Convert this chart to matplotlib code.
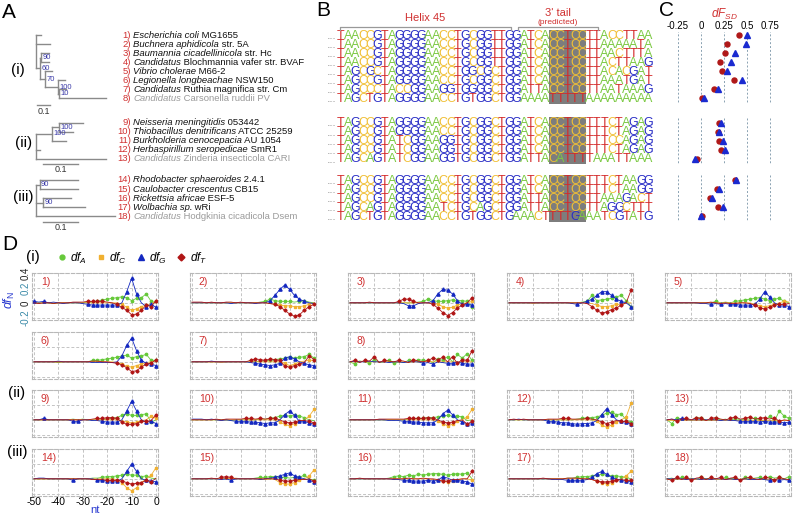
import matplotlib
matplotlib.use("Agg")
import matplotlib.pyplot as plt
from matplotlib.lines import Line2D
from matplotlib.patches import Rectangle
import numpy as np

plt.rcParams['font.family'] = ['Liberation Sans', 'DejaVu Sans']
plt.rcParams['mathtext.fontset'] = 'custom'
plt.rcParams['mathtext.it'] = 'Liberation Sans:italic'
plt.rcParams['mathtext.rm'] = 'Liberation Sans'

W, H = 794, 515

# ---------------- data ----------------
species_italic = ["Escherichia coli", "Buchnera aphidicola", "Baumannia cicadellinicola",
                  "Candidatus", "Vibrio cholerae", "Legionella longbeachae", "Candidatus",
                  "Candidatus", "Neisseria meningitidis", "Thiobacillus denitrificans",
                  "Burkholderia cenocepacia", "Herbaspirillum seropedicae", "Candidatus",
                  "Rhodobacter sphaeroides", "Caulobacter crescentus", "Rickettsia africae",
                  "Wolbachia sp.", "Candidatus"]
species_rest = [" MG1655", " str. 5A", " str. Hc", " Blochmannia vafer str. BVAF", " M66-2",
                " NSW150", " Ruthia magnifica str. Cm", " Carsonella ruddii PV", " 053442",
                " ATCC 25259", " AU 1054", " SmR1", " Zinderia insecticola CARI", " 2.4.1",
                " CB15", " ESF-5", " wRi", " Hodgkinia cicadicola Dsem"]
gray_species = [8, 13, 18]
group_sizes = [8, 5, 5]

# trees: child = (leaf, branch length) or (children, branch length, support)
tree_i = [(1, .04), (2, .11),
          ([([(3, .06), (4, .06)], .01, '90'),
            ([(5, .05), ([(6, .05), ([(7, .05), (8, .36)], .01, '10')], .10, '100')], .04, '70')],
           .03, '60')]
tree_ii = [([([(9, .07), (10, .04)], .02, '100'), (11, .04)], .045, '100'), (12, .01), (13, .2)]
tree_iii = [([(14, .11), (15, .11)], .01, '90'), ([(16, .08), (17, .12)], .02, '90'), (18, .225)]

seqs = [
    "TAACCGTAGGGGAACCTGCGGTTGGATCACCTCCTTACCTTAA",
    "TAACCGTAGGGGAACCTGCGGTTGGATCACCTCCTTAAAAATA",
    "TAACCGTAGGGGAACCTGCGGTTGGATCACCTCCTTAACTTTA",
    "TAACCGTAGGGGAACCTGCGGTTGGATCACCTCCTTACTTAAG",
    "TAGCGCTAGGGGAACCTGGCGCTGGATCACCTCCTTACACGAT",
    "TAGCCGTAGGGGAACCTGCGGCTGGATCACCTCCTTAAATGAT",
    "TAGCCCTACCGGAAGGTGGGGCTGGATTACCTCCTTAATAAAG",
    "TAGCTGTAGGGGAACCTGTGGCTGGAAAATTTTTAAAAAAAAA",
    "TAGCCGTAGGGGAACCTGCGGCTGGATCACCTCCTTTCTAGAG",
    "TAGCCGTAGGGGAACCTGCGGCTGGATCACCTCCTTTCTAGAG",
    "TAGCCGTATCGGAAGGTGCGGCTGGATCACCTCCTTTCCAGAG",
    "TAGCCGTATCGGAAGGTGCGGCTGGATCACCTCCTTTCTAGAG",
    "TAGCAGTATCGGAAGGTGCGGCTGGATTACATTTTAAATTAAA",
    "TAGCCGTAGGGGAACCTGCGGCTGGATCACCTCCTTTCTAAGG",
    "TAGCCGTAGGGGAACCTGCGGCTGGATCACCTCCTTTCTAAGG",
    "TAGCCGTAGGGGAACCTGCGGCTGGATTACCTCCTTAAAGACT",
    "TAGCAGTAGGGGAATCTGCAGCTGGATTACCTCCTTAGGCTTT",
    "TAGCTGTAGGGGAACCTGTGGCTGAAACTTTTGAAATCGTATG",
]
box_start, box_len = 29, 5
helix_cols = (0, 23.8)
tail_cols = (24.3, 35.6)

dF_red = [0.41, 0.28, 0.26, 0.21, 0.23, 0.36, 0.14, 0.01,
          0.20, 0.18, 0.20, 0.22, -0.04,
          0.37, 0.17, 0.10, 0.19, 0.01]
dF_blue = [0.50, 0.49, 0.37, 0.33, 0.28, 0.45, 0.18, 0.03,
           0.22, 0.20, 0.24, 0.26, -0.06,
           0.38, 0.20, 0.12, 0.24, 0.00]
c_ticks = [-0.25, 0, 0.25, 0.5, 0.75]
c_ticklabels = ["-0.25", "0", "0.25", "0.5", "0.75"]

nt = np.arange(-50, 1, 2)
dfA = [
    [0,0,0,0,-0.01,0,0,0,0,0,0,0.01,0.01,0.02,0.04,0.05,0.06,0.07,0.08,0.07,0.03,0.06,0.07,0.12,0.02,0.0],
    [0,0,0,0,0,0,0,0,0,0,0,0,0,0,0.01,0.02,0.05,0.03,0.02,0.02,0.02,0.01,0.02,0.03,0.01,0.0],
    [0,0,0,0,0,0,0,0,0,0,0,0,0,0,0.01,0.02,0.05,0.03,0.02,0.02,0.03,0.04,0.03,0.03,0.02,-0.05],
    [0,0,0,0,0,0,0,0,0,0,0,0,0,0,0,0.01,0.02,0.1,0.03,0.04,0.05,0.06,0.08,0.1,0.03,-0.05],
    [0,0,0,0,0,0,0,0,0,0,0.02,0.0,0.01,0,0.02,0.03,0.04,0.05,0.06,0.07,0.05,0.03,0.05,0.06,0.02,0],
    [0,0,0,0,0,-0.01,0,0,0,0,0,0,0.02,0.02,0.03,0.04,0.05,0.06,0.08,0.09,0.05,0.07,0.08,0.1,0.02,0.02],
    [0,0,0,0,0,0,0,0,0,0,0,0,0,0,0.01,0.01,0.02,0.03,0.04,0.05,0.06,0.05,0.06,0.07,0.1,0.05],
    [0,-0.03,0.01,0,-0.02,0.03,-0.01,0,0.02,-0.02,0,-0.01,0.02,0.0,0.03,0.02,0.01,-0.01,0.04,0.02,0.07,0.0,0.1,0.05,0.11,0.02],
    [0,0,0,0,0,0,0,0,0.01,0,0.01,0,0,0,0,0.01,0.02,0.03,0.06,0.08,0.06,0.06,0.07,0.08,-0.03,0.0],
    [0,0,0,0,0,0,0,0,-0.01,0,0,0,0,0,0.01,0.01,0.02,0.03,0.05,0.06,0.05,0.06,0.05,0.03,0.0,-0.01],
    [0,0,0,0,0,0,0,0,0,0,0,0,0.01,0.01,0.02,0.02,0.03,0.03,0.04,0.05,0.06,0.05,0.05,0.04,-0.01,0],
    [0,0,0,0,0,0,0,0,0,0,0,0,0,0,0.01,0.02,0.03,0.03,0.04,0.06,0.09,0.1,0.07,0.08,0.0,-0.03],
    [0,-0.05,0.03,0,0.01,-0.01,0.03,0.02,0.0,-0.01,0.02,0,0.01,-0.01,0.02,0.0,0.01,0.01,0.02,0,-0.02,0.05,-0.02,0.12,0.05,0.02],
    [0,0,0,0,0,0,0,0,0,0,0,0,0.01,0.01,0.02,0.03,0.03,0.04,0.05,0.06,0.05,0.05,0.03,0.04,0.01,0.0],
    [0,0,0,0,0,0,0,0,0,0,0,0,0,0.01,0.02,0.02,0.03,0.03,0.02,0.02,0.01,0.02,0.02,0.05,0.0,-0.02],
    [0,0,0,0,0,0,0,0,0.01,0.03,0.04,0.03,0.05,0.04,0.06,0.05,0.06,0.07,0.07,0.06,0.05,0.06,0.07,0.06,0.08,0.0],
    [0,0,0,0,0,0,0,0,0,0,0,0,0.01,0.01,0.02,0.03,0.03,0.04,0.05,0.06,0.05,0.04,0.04,0.03,0.02,0.0],
    [0,0.01,-0.01,0.02,0,0.01,-0.01,0.02,0,0.01,0,-0.01,0.02,0,0.01,-0.01,0.02,0,0.01,0.02,0,0.03,0.01,0.02,0,0.03],
]
dfC = [
    [0,0,0,0,0,0,0,0,0,0,0,0,0,0,0,0,0,0,-0.02,-0.06,-0.1,-0.08,-0.05,-0.03,-0.01,0.02],
    [0,0,0,0,0,0,0,0,0,0,0,0,0,0,0,0,-0.01,-0.02,-0.03,-0.04,-0.04,-0.05,-0.05,-0.04,-0.02,0],
    [0,0,0,0,0,0,0,0,0,0,0,0,0,0,0,0,0,0,-0.02,-0.05,-0.07,-0.06,-0.03,-0.01,0,0.02],
    [0,0,0,0,0,-0.01,0,0,0,0,0,0,0,0,0,0,0,-0.01,-0.03,-0.05,-0.05,-0.04,-0.02,-0.02,0,0],
    [0,0,0,0,0,0,0,0,0,0,0,0,0,0,0,0,0,0,-0.02,-0.04,-0.05,-0.04,-0.02,0,0.02,0.01],
    [0,0,0,0,0,0,0,0,0,0,0,0,0,0,0,0,0,-0.01,-0.03,-0.06,-0.07,-0.05,-0.03,-0.01,0,0.01],
    [0,0,0,0,0,0,-0.01,0,0,0,0,0,0,0,0,0,0,0,0,-0.02,-0.05,-0.03,0,0.01,0.02,0.02],
    [0,0,0.01,0,0,0,0,0,0,0,0,0,-0.01,0,0,0,0.01,0,0,0,0,0,0,0,0,0],
    [0,0,0,0,0,0,0,0,0,0,0,0,0,0,0,0,0,0,-0.01,-0.03,-0.04,-0.03,-0.01,0,0.05,0.02],
    [0,0,0,0,0,0,-0.01,0,0,0,0,0,0,0,0,0,0,0,-0.03,-0.06,-0.08,-0.05,-0.02,0,0.05,0.14],
    [0,0,0,0,0,0,0,0,0,0,0,0,0,0,0,0,0,0,-0.02,-0.05,-0.08,-0.06,-0.02,0,0.04,0.14],
    [0,0,0,0,0,0,0,0,0,0,0,0,0,0,0,0,0,0,-0.02,-0.07,-0.1,-0.07,-0.03,0,0.04,0.22],
    [0,0,0,0,0,0,0,0,0,0,0,0,0,0,0,0,0,0,0,0,0,0,0,0,0,0],
    [0,0,0,0,0,0,0,0,0,0,0,0,0,0,0,0,0,-0.01,-0.05,-0.12,-0.16,-0.12,-0.05,0,0.05,0.15],
    [0,0,0,0,0,0,0,0.01,0,0.01,0,0,0,0,0,-0.01,0,-0.01,-0.05,-0.07,-0.07,-0.05,-0.02,0,0.04,0.12],
    [0,0,0,0,0,0,0,0,0,0,0,0,0,0,0,0,0,-0.01,-0.02,-0.03,-0.04,-0.03,-0.01,0,0,-0.02],
    [0,0,0,0,0,0,0,0,0,0,0,0,0,0,0,0,0,-0.01,-0.03,-0.05,-0.07,-0.05,-0.02,0,0.04,0.1],
    [0,0,0,0,0,0,0,0,0,0,0,0,0,0,0,0,0,0,0,0,0,0,0,0,0,0],
]
dfG = [
    [0.02,0.01,0.02,0,0.01,0,-0.01,0,0,0,-0.01,-0.02,-0.03,-0.03,-0.03,-0.03,-0.03,-0.03,0.0,0.15,0.33,0.12,0.0,-0.05,-0.02,-0.06],
    [0,0,0,0,0,0,0,0,-0.01,0,0,0,0,-0.01,0,0,0.03,0.1,0.18,0.24,0.18,0.1,0.05,0.02,0.0,-0.01],
    [0,0,0,0,0,0,0,0,0,0,0,-0.01,-0.04,-0.04,-0.01,0,0,0.03,0.12,0.18,0.17,0.12,0.03,-0.02,-0.02,-0.03],
    [0,0,0,0,0,0,0,0,0,0,0,0,0,-0.01,-0.02,0,0.02,0.05,0.1,0.15,0.15,0.1,0.05,0.02,0,-0.05],
    [0,0,0,0,0,0,0,-0.01,-0.01,-0.02,-0.01,-0.02,-0.01,-0.02,-0.02,-0.03,-0.03,-0.03,-0.02,0.05,0.15,0.08,0.0,-0.03,-0.03,-0.05],
    [0,0,0,0,0,0.01,0,0,0,0,0,0,-0.01,-0.01,-0.01,-0.01,-0.01,0,0.08,0.22,0.32,0.15,0.02,-0.02,-0.03,-0.05],
    [0,0,0,0,0.01,0,0,0,0,0,0,0,-0.01,-0.02,-0.03,-0.04,-0.05,-0.04,-0.02,0.05,0.07,0.04,0.0,-0.02,-0.04,-0.05],
    [0,0.01,0,0,0.01,0,0,0,-0.01,0,0,-0.01,0,0,0,-0.02,-0.01,-0.03,0,-0.01,-0.02,-0.02,0,-0.02,-0.03,-0.03],
    [0,0,0.02,0,0,0,0,0,-0.02,-0.02,0,0,-0.01,-0.01,-0.02,-0.03,-0.03,-0.03,0.0,0.12,0.25,0.12,0.0,-0.03,-0.02,-0.05],
    [0.01,0.01,0.01,0,0.01,0,-0.01,0,-0.01,-0.02,-0.02,-0.02,-0.03,-0.03,-0.04,-0.05,-0.04,-0.04,0.0,0.07,0.12,0.06,-0.02,-0.02,-0.04,-0.06],
    [0,0,0,0,0,0,0,0,-0.01,-0.01,-0.01,-0.02,-0.02,-0.03,-0.03,-0.04,-0.04,-0.04,0.0,0.08,0.13,0.07,0.0,-0.03,-0.05,-0.04],
    [0,0,0.01,0,0,0,0,0,-0.02,-0.02,-0.03,-0.04,-0.04,-0.05,-0.06,-0.05,-0.05,-0.04,-0.01,0.07,0.15,0.07,0.0,-0.02,-0.03,-0.06],
    [0,0.01,0,0.02,0,0,0,0,0,0,0,-0.01,0,-0.01,-0.01,-0.02,-0.02,-0.02,-0.02,-0.03,-0.02,-0.03,-0.03,-0.03,-0.04,-0.03],
    [0,0.01,0.01,0,0,0,0,0,-0.02,0,0,0,0,-0.02,-0.02,-0.03,-0.03,-0.03,0.0,0.1,0.2,0.1,0.0,-0.02,-0.03,-0.04],
    [0,0,0,0,0,0,-0.01,0,-0.02,0,0,0,0,0,-0.01,0,0.01,0.02,0.04,0.06,0.08,0.04,0.02,0.0,-0.02,-0.04],
    [0,0,0,0,0,0,0,0,0,-0.01,-0.01,-0.02,-0.02,-0.03,-0.03,-0.03,-0.02,-0.03,-0.02,0.03,0.01,-0.02,-0.02,-0.03,-0.04,-0.07],
    [0,0,0,0,0,0,0,0,0,-0.01,-0.01,-0.01,-0.02,-0.02,-0.02,-0.02,-0.01,0.02,0.07,0.1,0.06,0.02,0.0,-0.02,-0.03,-0.04],
    [0,0,0,0,-0.01,0,0,-0.01,0,-0.01,0,0,-0.01,0,-0.01,-0.01,0,-0.01,-0.01,0,-0.01,-0.02,-0.01,-0.02,-0.01,-0.02],
]
dfT = [
    [0,-0.01,0,0,-0.01,0,0,0,0.01,0.01,0.01,0.02,0.02,0.02,0.02,0.01,0,-0.02,-0.06,-0.1,-0.16,-0.15,-0.1,-0.03,-0.05,0.03],
    [0.01,0.01,0.01,0,0.01,0,0,0.01,0.01,0,0.01,0,0,0,0,0,-0.01,-0.02,-0.05,-0.1,-0.15,-0.18,-0.16,-0.1,-0.05,-0.02],
    [0,0,0,0,0.01,0,0,0,0,0,0.02,0.05,0.05,0.02,0,0,0,-0.02,-0.07,-0.13,-0.17,-0.13,-0.07,-0.03,0,0.07],
    [0,0,0,0,0,0,0,0,0,0,0,0,0,0,0,0,-0.01,-0.05,-0.1,-0.14,-0.12,-0.09,-0.07,-0.03,0.0,0.17],
    [0,0,0,0,0,0,0,0,0,0.01,0,-0.01,0,-0.01,-0.01,0,0,-0.01,-0.03,-0.07,-0.08,-0.06,-0.03,-0.02,-0.02,-0.01],
    [0,0,0,0,0,0,0,0,0,0,0,0,0.01,0.01,0,0,-0.01,-0.02,-0.04,-0.08,-0.13,-0.12,-0.07,-0.03,-0.02,0.03],
    [0,0,0,0,0,0,0,0,0,0,0,0,0.02,0.04,0.03,0.02,0.04,0.03,0.02,-0.06,-0.07,-0.05,-0.03,-0.01,0.08,0.03],
    [0,0.02,-0.01,0.02,0.01,0.07,-0.01,0.02,0.01,0.0,0.02,0.01,-0.01,0.03,0.01,0.0,0.02,0.05,0.03,0.06,0.0,0.07,-0.02,0.03,0.02,0.15],
    [0,0,0,0,0,0,0,0,0,0,0,0,0.01,0.02,0.02,0.03,0.03,0.02,-0.03,-0.06,-0.06,-0.05,-0.02,-0.02,-0.01,0.07],
    [0,0,0,0,0,0.01,0,0.01,0.01,0.01,0.01,0.02,0.02,0.01,0.02,0.01,0.02,0.02,0.0,-0.03,-0.04,-0.03,-0.01,-0.01,-0.02,-0.04],
    [0,0,0,0,0,0,0.01,0.01,0.01,0.01,0.01,0.01,0.02,0.02,0.02,0.02,0.03,0.02,0.0,-0.03,-0.04,-0.03,-0.01,0,-0.06,-0.02],
    [0,0.01,0,0.01,0,0,0,0,0.01,0.01,0.01,0.02,0.02,0.01,0.01,0.01,0.02,0.01,0.0,-0.03,-0.05,-0.03,-0.01,-0.02,-0.02,-0.05],
    [0,0.01,-0.02,0.01,0.02,0.0,0.03,0.02,-0.01,0.02,0.03,0.01,0.0,0.02,0.04,0.01,0.02,0.04,0.01,0.02,0.03,0.01,0.03,-0.02,0.0,-0.01],
    [0,0,0,0,0,0,0,0,0,0,0,0,-0.01,-0.01,-0.01,-0.02,-0.02,-0.02,-0.03,-0.05,-0.07,-0.06,-0.05,-0.02,-0.04,0.01],
    [0,0,0,0,0.01,0,0.02,0.03,0.02,0.0,0,0,0,0,0,0,0,0,-0.02,-0.03,-0.03,-0.02,-0.01,-0.01,0.0,-0.03],
    [0,0,0.01,0,0,0,0,0,0,0,0,0,0.01,0,0,0.01,0,0,-0.01,-0.03,-0.03,-0.01,-0.01,0,0.0,0.1],
    [0,0,0,0,0,0,0,0.01,0,0,0,0,0.01,0.01,0.01,0,0,-0.01,-0.03,-0.04,-0.04,-0.03,-0.02,-0.01,-0.02,-0.02],
    [0,-0.02,0.02,-0.01,0.02,-0.02,0.01,0.02,-0.01,0.02,0.0,0.02,-0.01,0.01,0.02,-0.02,0.01,0.02,0.0,-0.01,0.02,0.01,-0.02,0.02,0,-0.01],
]

# ---------------- layout ----------------
group_top = [35, 122.5, 180]
row_gap = 9.05
row_y = []
for g, n in enumerate(group_sizes):
    row_y += [group_top[g] + row_gap * k for k in range(n)]
group_rows = []
i0 = 0
for n in group_sizes:
    group_rows.append((row_y[i0], row_y[i0 + n - 1]))
    i0 += n

base_color = {'T': '#d42a2a', 'A': '#7cc943', 'C': '#f0bf35', 'G': '#2a2ec6'}
colA, colC, colG, colT = '#66c93a', '#f0b030', '#1428c0', '#b01515'
red_txt = '#d03030'
tree_col = '#8a8a8a'
boot_col = '#3a3aa8'

fig = plt.figure(figsize=(W / 100, H / 100), dpi=100)
bg = fig.add_axes([0, 0, 1, 1])
bg.set_xlim(0, W)
bg.set_ylim(H, 0)
bg.axis('off')
renderer = fig.canvas.get_renderer()

# panel letters
for s, x, y in [("A", 9, 13), ("B", 323, 11), ("C", 666, 10), ("D", 10, 244)]:
    bg.text(x, y, s, fontsize=15, ha='center', va='center')

# ---------------- A: trees + species ----------------
def draw_tree(node, x, scale):
    ys = []
    for ch in node:
        if isinstance(ch[0], int):
            y = row_y[ch[0] - 1]
            bg.plot([x, x + ch[1] * scale], [y, y], color=tree_col, lw=1)
        else:
            x1 = x + ch[1] * scale
            y = draw_tree(ch[0], x1, scale)
            bg.plot([x, x1], [y, y], color=tree_col, lw=1)
            bg.text(x1 + 1.5, y, ch[2], fontsize=5.5, color=boot_col, ha='left', va='center')
        ys.append(y)
    bg.plot([x, x], [min(ys), max(ys)], color=tree_col, lw=1)
    return (min(ys) + max(ys)) / 2

for tree, scale, bar_x, bar_y in [(tree_i, 130, 37, 105), (tree_ii, 350, 43, 164),
                                  (tree_iii, 350, 43, 222)]:
    draw_tree(tree, 36, scale)
    bg.plot([bar_x, bar_x + 0.1 * scale], [bar_y, bar_y], color=tree_col, lw=1)
    bg.text(bar_x + 0.05 * scale, bar_y + 6, "0.1", fontsize=6.5, ha='center', va='center',
            color='#333333')
for rom, x, y in [("(i)", 18, 70), ("(ii)", 24, 143), ("(iii)", 23, 197)]:
    bg.text(x, y, rom, fontsize=11, ha='center', va='center')

for k in range(len(species_italic)):
    y = row_y[k]
    bg.text(131, y, "%d)" % (k + 1), fontsize=6.8, color=red_txt, ha='right', va='center')
    col = '#9a9a9a' if (k + 1) in gray_species else '#111111'
    t = bg.text(133, y, species_italic[k], fontsize=6.8, style='italic', color=col,
                ha='left', va='center')
    bb = t.get_window_extent(renderer)
    x_next = bg.transData.inverted().transform((bb.x1, bb.y0))[0]
    bg.text(x_next, y, species_rest[k], fontsize=6.8, color=col, ha='left', va='center')

# ---------------- B: alignment ----------------
seq_x0, char_w = 337, 7.32
for ytop, ybot in group_rows:
    bg.add_patch(Rectangle((seq_x0 + box_start * char_w, ytop - 5.5), box_len * char_w,
                           ybot - ytop + 11, color='#7d7d7d', lw=0, zorder=1))
for k, s in enumerate(seqs):
    y = row_y[k]
    bg.text(seq_x0 - 1, y + 2.5, "......", fontsize=3.5, color='#444444', ha='right', va='center')
    for j, ch in enumerate(s):
        bg.text(seq_x0 + (j + 0.5) * char_w, y + 0.6, ch, fontsize=9.0, color=base_color[ch],
                ha='center', va='center', zorder=2,
                family=['Liberation Sans Narrow', 'Liberation Sans'])

for (c0, c1), lab, ly in [(helix_cols, "Helix 45", 18), (tail_cols, "3' tail", 13)]:
    xa = seq_x0 + c0 * char_w + 3
    xb = seq_x0 + c1 * char_w
    bg.plot([xa, xa, xb, xb], [30, 26.5, 26.5, 30], color='#999999', lw=0.9)
    bg.text((xa + xb) / 2, ly, lab, fontsize=8, color=red_txt, ha='center', va='center')
xa = seq_x0 + tail_cols[0] * char_w + 3
xb = seq_x0 + tail_cols[1] * char_w
bg.text((xa + xb) / 2, 22, "(predicted)", fontsize=6, color=red_txt, ha='center', va='center')

# ---------------- C: dF_SD ----------------
cx0, cx1, cy0, cy1 = 668, 790, 32, 224
zero_px, px_per_unit = 701, 92
cax = fig.add_axes([cx0 / W, 1 - cy1 / H, (cx1 - cx0) / W, (cy1 - cy0) / H])
cax.set_xlim((cx0 - zero_px) / px_per_unit, (cx1 - zero_px) / px_per_unit)
cax.set_ylim(cy1, cy0)
cax.patch.set_visible(False)
for sp in cax.spines.values():
    sp.set_visible(False)
cax.xaxis.tick_top()
cax.set_xticks(c_ticks)
cax.set_xticklabels(c_ticklabels)
cax.tick_params(axis='x', length=0, labelsize=7, pad=1)
cax.set_yticks([])
for ytop, ybot in group_rows:
    cax.vlines(c_ticks, ytop - 5, ybot + 5, colors='#8aa2b2', linestyles=(0, (2, 2)), lw=0.7)
cax.plot(dF_red, row_y, 'o', color='#b01818', ms=3.6, zorder=3)
cax.plot(dF_blue, row_y, '^', color='#1a2ad0', ms=4.6, zorder=4)
bg.text(724, 14, r'$dF_{SD}$', fontsize=8.5, color=red_txt, ha='center', va='center')

# ---------------- D: small multiples ----------------
col_x = [32, 190, 348, 507, 665]
row_top = [273, 332, 390, 449]
pw, ph = 126, 47
slots = [(0, c) for c in range(5)] + [(1, c) for c in range(3)] + \
        [(2, c) for c in range(5)] + [(3, c) for c in range(5)]
series = [(dfA, colA, 'o', 1.7), (dfC, colC, 's', 1.6), (dfG, colG, '^', 2.3), (dfT, colT, 'D', 1.6)]

for p, (r, c) in enumerate(slots):
    x0, y0 = col_x[c], row_top[r]
    ax = fig.add_axes([x0 / W, 1 - (y0 + ph) / H, pw / W, ph / H])
    ax.patch.set_visible(False)
    for data, col, mk, ms in series:
        v = np.array(data[p])
        ax.plot(nt, v, color=col, lw=0.6)
        m = np.abs(v) >= 0.02
        ax.plot(nt[m], v[m], mk, color=col, ms=ms, lw=0)
    ax.set_xlim(-50.8, 0.8)
    ax.set_ylim(-0.23, 0.4)
    ax.set_xticks([-50, -40, -30, -20, -10, 0])
    ax.set_yticks([-0.2, 0, 0.2, 0.4])
    ax.grid(True, ls=(0, (3, 2)), color='#c4c4c4', lw=0.7)
    ax.set_axisbelow(True)
    for sp in ax.spines.values():
        sp.set_linestyle((0, (3, 2)))
        sp.set_color('#b8b8b8')
        sp.set_linewidth(0.8)
    ax.tick_params(length=0, labelsize=7, pad=1)
    if p == 0:
        ax.set_yticklabels(["-0.2", "0", "0.2", "0.4"], rotation=90, va='center')
        for lbl, cc in zip(ax.get_yticklabels(), ['#3a8aa8', '#222222', '#3a8aa8', '#222222']):
            lbl.set_color(cc)
    else:
        ax.set_yticklabels([])
    if p == 13:
        ax.set_xticklabels(["-50", "-40", "-30", "-20", "-10", "0"], fontsize=7.5)
    else:
        ax.set_xticklabels([])
    ax.text(0.07, 0.8, "%d)" % (p + 1), transform=ax.transAxes, fontsize=7.5,
            color=red_txt, ha='left', va='center')

bg.text(95, 510, "nt", fontsize=8, color='#2a3ad0', ha='center', va='center')
bg.text(9, 300, r'$df_{\rm N}$', fontsize=9, color='#2a3ad0', rotation=90,
        ha='center', va='center')
for rom, x, y in [("(i)", 33, 257), ("(ii)", 17, 393), ("(iii)", 17, 452)]:
    bg.text(x, y, rom, fontsize=11, ha='center', va='center')

handles = [Line2D([], [], color=colA, marker='o', ls='', ms=3.5),
           Line2D([], [], color=colC, marker='s', ls='', ms=3.5),
           Line2D([], [], color=colG, marker='^', ls='', ms=4.5),
           Line2D([], [], color=colT, marker='D', ls='', ms=3.5)]
labels = [r'$df_A$', r'$df_C$', r'$df_G$', r'$df_T$']
fig.legend(handles, labels, loc='center left', bbox_to_anchor=(58 / W, 1 - 258 / H), ncol=4,
           frameon=False, fontsize=8.5, handlelength=0.6, handletextpad=0.4,
           columnspacing=0.9, borderpad=0, borderaxespad=0)

fig.savefig("out.png", dpi=100)
